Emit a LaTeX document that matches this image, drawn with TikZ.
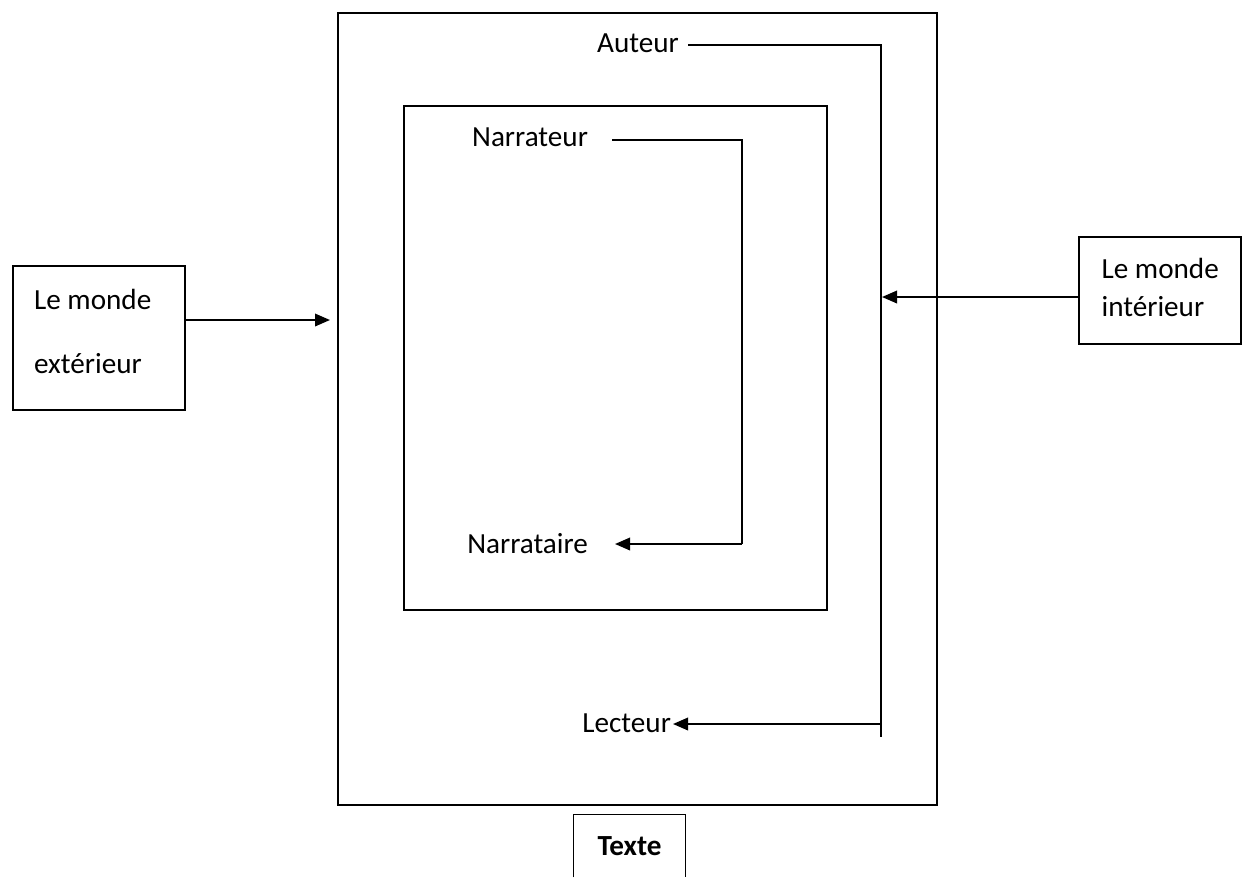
\documentclass[tikz,border=0pt]{standalone}
\usepackage{fontspec}
\setmainfont{Carlito}
\usetikzlibrary{arrows.meta,calc}

\begin{document}
\begin{tikzpicture}[font=\fontsize{16.6}{20}\selectfont,
    box/.style={draw,line width=0.9pt,inner sep=0pt},
    lbl/.style={inner sep=1pt},
    link/.style={line width=1.1pt},
    arr/.style={link,-{Triangle[length=3mm,width=2.5mm]}}]

  \useasboundingbox (0,0) rectangle (24.84,-17.54);

  % Boxes: the text, the narration inside it, and the two worlds.
  \node[box,minimum width=11.98cm,minimum height=15.84cm] (texte) at (12.75,-8.18) {};
  \node[box,minimum width=8.46cm,minimum height=10.08cm] (recit) at (12.31,-7.16) {};
  \node[box,minimum width=3.44cm,minimum height=2.88cm] (mondeext) at (1.98,-6.76) {};
  \node[box,minimum width=3.24cm,minimum height=2.14cm] (mondeint) at (23.2,-5.81) {};
  \node[lbl,anchor=west] (ext1) at (0.64,-5.98) {Le monde};
  \node[lbl,anchor=west] (ext2) at (0.64,-7.28) {extérieur};
  \node[lbl,anchor=west] (int1) at (21.99,-5.36) {Le monde};
  \node[lbl,anchor=west] (int2) at (21.99,-6.14) {intérieur};

  \node[inner sep=0pt,minimum width=2.22cm,minimum height=1.24cm,font=\fontsize{16.6}{20}\selectfont\bfseries]
       (titre) at (12.59,-16.92) {Texte};
  \draw[line width=0.9pt] (titre.south west) -- (titre.north west)
       -- (titre.north east) -- (titre.south east);

  \node[lbl,anchor=east] (auteur) at (13.62,-0.86) {Auteur};
  \node[lbl,anchor=east] (lecteur) at (13.46,-14.46) {Lecteur};
  \node[lbl,anchor=east] (narrateur) at (11.80,-2.74) {Narrateur};
  \node[lbl,anchor=east] (narrataire) at (11.80,-10.88) {Narrataire};

  \coordinate (a1) at (17.62,-0.90);
  \coordinate (a2) at (17.62,-14.74);
  \coordinate (l1) at (17.62,-14.48);
  \coordinate (n1) at (12.24,-2.80);
  \coordinate (n2) at (14.84,-2.80);
  \coordinate (n3) at (14.84,-10.88);
  \coordinate (ext) at (6.60,-6.40);
  \coordinate (int) at (17.64,-5.94);

  % Author to reader, narrator to narratee.
  \draw[line width=0.9pt] ([xshift=0.14cm]auteur.east |- a1) -- (a1) -- (a2);
  \draw[arr] (l1) -- (lecteur.east |- l1);
  \draw[link] (n1) -- (n2) -- (n3);
  \draw[arr] (n3) -- ([xshift=0.5cm]narrataire.east |- n3);

  \draw[arr] (mondeext.east |- ext) -- (ext);
  \draw[arr] (mondeint.west |- int) -- (int);
\end{tikzpicture}
\end{document}
